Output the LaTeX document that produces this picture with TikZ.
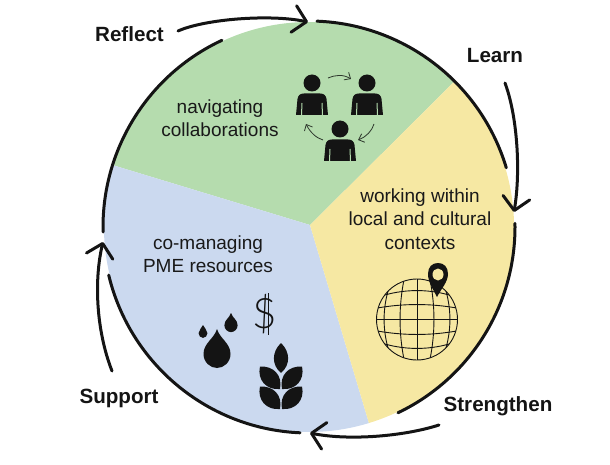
\documentclass[tikz,border=0pt]{standalone}
\usepackage{fontspec}
\setmainfont{Liberation Sans}
\newfontfamily\dollarFont{Lato Light}
\usetikzlibrary{arrows.meta}
\definecolor{collaborationGreen}{HTML}{B5DCAE}
\definecolor{contextYellow}{HTML}{F6E8A3}
\definecolor{resourceBlue}{HTML}{CBD9EF}
\colorlet{inkBlack}{black!92}
\colorlet{sectorText}{black!90}
\tikzset{
  rim arc/.style={draw=inkBlack,line width=3pt,line cap=round},
  cycle arrow/.style={draw=inkBlack,line width=3pt,line cap=round,
    -{Straight Barb[length=13pt,width=27pt,line width=3pt,round]}},
  swap arrow/.style={draw=black!75!collaborationGreen,line width=.8pt,
    -{Straight Barb[length=5pt,width=9pt,line width=.8pt]}},
  stage label/.style={font=\bfseries\fontsize{20.6}{24}\selectfont,text=inkBlack,anchor=base},
  sector label/.style={font=\fontsize{19}{23.5}\selectfont,text=sectorText,align=center},
  grid line/.style={draw=inkBlack,line width=.9pt},
  person/.pic={
    \fill[inkBlack] (0,0) circle[radius=8.5];
    \fill[inkBlack] (-8,10.5) -- (8,10.5) .. controls (12,10.5) and (14,12.5) .. (14.5,16)
      -- (16,32) -- (-16,32) -- (-14.5,16) .. controls (-14,12.5) and (-12,10.5) .. (-8,10.5) -- cycle;
    \draw[collaborationGreen,line width=1pt] (-10,20) -- (-10.5,32) (10,20) -- (10.5,32);
  },
  water drop/.pic={
    \fill[inkBlack] (0,0) .. controls (3,10) and (13.5,14) .. (13.5,25)
      .. controls (13.5,33) and (7,39) .. (0,39) .. controls (-7,39) and (-13.5,33) .. (-13.5,25)
      .. controls (-13.5,14) and (-3,10) .. (0,0) -- cycle;
  },
  wheat grain/.pic={
    \fill[inkBlack] (0,0) .. controls (-9.5,-8) and (-9.5,-21) .. (0,-30)
      .. controls (9.5,-21) and (9.5,-8) .. (0,0) -- cycle;
  },
  wheat leaf/.pic={
    \fill[inkBlack] (0,0) .. controls (-11,-8) and (-11,-22) .. (0,-30)
      .. controls (11,-22) and (11,-8) .. (0,0) -- cycle;
  }
}
\begin{document}
\begin{tikzpicture}[x=1pt,y=-1pt]
\useasboundingbox (0,0) rectangle (610,465);
\coordinate (centre) at (309,227);
\coordinate (hub) at (310,225);
% sectors
\foreach \sectorColour/\from/\to in {collaborationGreen/-45/-162.5,resourceBlue/-162.5/-287,contextYellow/73/-45} {
  \fill[\sectorColour] (hub) -- ([shift={(centre)}]\from:205)
    arc[start angle=\from,end angle=\to,radius=205] -- cycle;
}
\foreach \from/\to in {-115/-181.4,-193.5/-267.5,64.4/-1,-16.7/-87.8} {
  \draw[rim arc] ([shift={(centre)}]\from:206) arc[start angle=\from,end angle=\to,radius=206];
}
% stages of the cycle
\coordinate (reflectStart) at (178,31);
\coordinate (reflectEnd) at (308,22);
\coordinate (learnStart) at (505,83);
\coordinate (learnEnd) at (514,212);
\coordinate (strengthenStart) at (439,425);
\coordinate (strengthenEnd) at (310,433);
\coordinate (supportStart) at (112,371);
\coordinate (supportEnd) at (103,242);
\draw[cycle arrow] (reflectStart) .. controls (205,19) and (270,14) .. (reflectEnd);
\draw[cycle arrow] (learnStart) .. controls (517,115) and (521,170) .. (learnEnd);
\draw[cycle arrow] (strengthenStart) .. controls (405,436) and (350,441) .. (strengthenEnd);
\draw[cycle arrow] (supportStart) .. controls (96,330) and (94,280) .. (supportEnd);
\node[stage label] (reflect) at (129.5,42) {Reflect};
\node[stage label] (learn) at (495,63) {Learn};
\node[stage label] (strengthen) at (498,411) {Strengthen};
\node[stage label] (support) at (119,403) {Support};
\node[sector label] (navigating) at (220,118) {navigating\\collaborations};
\node[sector label] (working) at (420,219) {working within\\local and cultural\\contexts};
\node[sector label] (managing) at (208,254) {co-managing\\PME resources};
% people
\pic at (312,83) {person};
\pic at (367,83) {person};
\pic at (340,129) {person};
\coordinate (swapA) at (328,78);
\coordinate (swapB) at (351,79);
\coordinate (swapC) at (374,124);
\coordinate (swapD) at (358,140);
\coordinate (swapE) at (323,140);
\coordinate (swapF) at (306,124);
\draw[swap arrow] (swapA) .. controls (335,75) and (343,74) .. (swapB);
\draw[swap arrow] (swapC) .. controls (372,131) and (366,137) .. (swapD);
\draw[swap arrow] (swapE) .. controls (316,138) and (310,132) .. (swapF);
% globe
\begin{scope}[shift={(417,319.5)}]
  \begin{scope}
    \clip (0,0) circle[radius=40.5];
    \draw[grid line] (0,-41) -- (0,41) (-41,0) -- (41,0);
    \foreach \d in {-33,-17,17,33} {
      \draw[grid line] (.75*\d,-41) .. controls (1.08*\d,-14) and (1.08*\d,14) .. (.75*\d,41);
    }
    \foreach \d in {-29,-15,15,29} {
      \draw[grid line] (-41,.75*\d) .. controls (-14,1.08*\d) and (14,1.08*\d) .. (41,.75*\d);
    }
  \end{scope}
  \draw[grid line] (0,0) circle[radius=40.5];
\end{scope}
% pin
\fill[inkBlack] (437,297) .. controls (433,289) and (428,282) .. (428,274)
  .. controls (428,267) and (432,263) .. (438,263) .. controls (444,263) and (448,267) .. (448,274)
  .. controls (448,282) and (441,289) .. (437,297) -- cycle;
\fill[contextYellow] (438,274.5) ellipse[x radius=5.5,y radius=6];
% resources
\pic at (217,329) {water drop};
\pic[scale=.49] at (231,313) {water drop};
\pic[scale=.33] at (203,325) {water drop};
\node[text=inkBlack,font=\dollarFont\fontsize{42}{42}\selectfont] (dollar) at (265,314) {\$};
\draw[inkBlack,line width=.8pt] (268,293) -- (268,335);
\pic at (281,373) {wheat grain};
\pic[rotate=42] at (280,389) {wheat leaf};
\pic[rotate=-42] at (282,389) {wheat leaf};
\pic[rotate=42] at (280,409) {wheat leaf};
\pic[rotate=-42] at (282,409) {wheat leaf};
\end{tikzpicture}
\end{document}
